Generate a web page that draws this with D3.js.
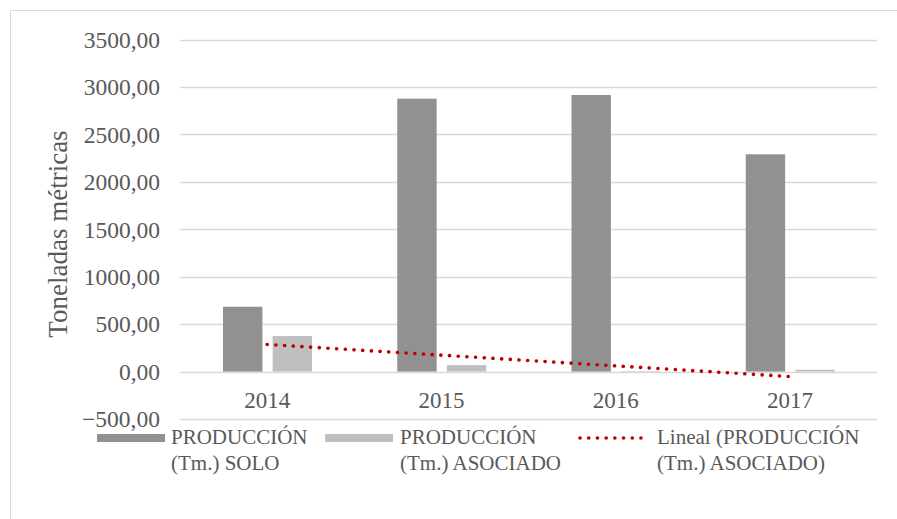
<!DOCTYPE html>
<html><head><meta charset="utf-8">
<script src="https://cdn.jsdelivr.net/npm/d3@7"></script>
<style>body{margin:0;background:#fff}svg{display:block}text{font-family:"Liberation Serif","Times New Roman",serif;fill:#595959}</style>
</head><body>
<script>
const years = ["2014","2015","2016","2017"];
const seriesNames = ["PRODUCCIÓN (Tm.) SOLO","PRODUCCIÓN (Tm.) ASOCIADO"];
const solo = [683, 2876, 2915, 2290];
const asociado = [374, 68, 5, 19];
const yTicks = [-500,0,500,1000,1500,2000,2500,3000,3500];
const trendName = "Lineal (PRODUCCIÓN (Tm.) ASOCIADO)";
const colors = ["#919191","#bfbfbf"];
const trendColor = "#c00000";

const W=897,H=519;
const svg=d3.select("body").append("svg").attr("width",W).attr("height",H);
svg.append("rect").attr("x",10.5).attr("y",10.5).attr("width",900).attr("height",520)
  .attr("fill","#fff").attr("stroke","#d9d9d9");

const x=d3.scaleBand().domain(years).range([180,877]);
const xs=d3.scaleBand().domain(seriesNames).range([43,132]).paddingInner(0.206);
const y=d3.scaleLinear().domain([-500,3500]).range([419,39.5]);
const fmt=d=>d3.format(".2f")(d).replace(".",",");

// grid
svg.append("g").selectAll("line").data(yTicks).join("line")
  .attr("x1",180).attr("x2",877).attr("y1",d=>Math.round(y(d))+0.5).attr("y2",d=>Math.round(y(d))+0.5)
  .attr("stroke","#d9d9d9").attr("stroke-width",1.3);

// y axis labels
const ya=d3.axisLeft(y).tickValues(yTicks).tickFormat(fmt).tickSize(0).tickPadding(0);
const gy=svg.append("g").attr("transform","translate(160,0)").call(ya);
gy.select(".domain").remove();
gy.selectAll("text").attr("font-size",23.5).attr("fill","#595959").attr("font-family","Liberation Serif").attr("dy","0.33em");

// x axis labels
const xa=d3.axisBottom(x).tickSize(0).tickPadding(0);
const gx=svg.append("g").attr("transform","translate(0,392)").call(xa);
gx.select(".domain").remove();
gx.selectAll("text").attr("font-size",23).attr("fill","#595959").attr("font-family","Liberation Serif").attr("dy","0.71em");

// bars
const data=[solo,asociado];
data.forEach((vals,si)=>{
  svg.append("g").selectAll("rect").data(vals).join("rect")
    .attr("x",(d,i)=>x(years[i])+xs(seriesNames[si]))
    .attr("width",xs.bandwidth())
    .attr("y",d=>y(Math.max(0,d)))
    .attr("height",d=>Math.abs(y(d)-y(0)))
    .attr("fill",colors[si]);
});

// linear trend of ASOCIADO
const n=asociado.length, xi=d3.range(1,n+1);
const mx=d3.mean(xi), my=d3.mean(asociado);
const slope=d3.sum(xi,(v,i)=>(v-mx)*(asociado[i]-my))/d3.sum(xi,v=>(v-mx)*(v-mx));
const icpt=my-slope*mx;
const trend=xi.map(v=>icpt+slope*v);
const cx=i=>x(years[i])+x.bandwidth()/2;
svg.append("path").datum(trend)
  .attr("d",d3.line().x((d,i)=>cx(i)).y(d=>y(d)))
  .attr("fill","none").attr("stroke",trendColor).attr("stroke-width",3.6)
  .attr("stroke-linecap","round").attr("stroke-dasharray","0.1 8.6");

// y title
svg.append("text").attr("transform","translate(67,234) rotate(-90)")
  .attr("text-anchor","middle").attr("font-size",27).text("Toneladas métricas");

// legend
const leg=[
  {type:"bar",c:colors[0],x:97,tx:171,l:["PRODUCCIÓN","(Tm.) SOLO"]},
  {type:"bar",c:colors[1],x:325,tx:400,l:["PRODUCCIÓN","(Tm.) ASOCIADO"]},
  {type:"line",c:trendColor,x:579,tx:657,l:["Lineal (PRODUCCIÓN","(Tm.) ASOCIADO)"]}
];
const lg=svg.append("g");
leg.forEach(e=>{
  if(e.type==="bar") lg.append("rect").attr("x",e.x).attr("y",434).attr("width",68).attr("height",8).attr("fill",e.c);
  else lg.append("line").attr("x1",e.x+1).attr("x2",e.x+69).attr("y1",438).attr("y2",438)
    .attr("stroke",e.c).attr("stroke-width",3.6).attr("stroke-linecap","round").attr("stroke-dasharray","0.1 8.6");
  e.l.forEach((t,k)=>lg.append("text").attr("x",e.tx).attr("y",444+k*26).attr("font-size",21).text(t));
});
</script>
</body></html>
